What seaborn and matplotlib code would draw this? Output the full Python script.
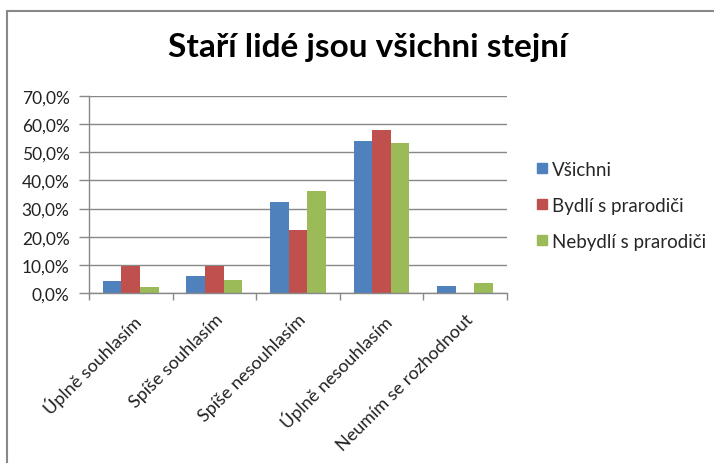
import numpy as np
import pandas as pd
import matplotlib
matplotlib.use("Agg")
import matplotlib.pyplot as plt
from matplotlib.lines import Line2D
from matplotlib.ticker import FuncFormatter, FixedLocator
import seaborn as sns

categories = ["Úplně souhlasím", "Spíše souhlasím", "Spíše nesouhlasím",
              "Úplně nesouhlasím", "Neumím se rozhodnout"]
series = ["Všichni", "Bydlí s prarodiči", "Nebydlí s prarodiči"]
vsichni = [4.2, 5.9, 32.4, 54.1, 2.5]
bydli = [9.7, 9.7, 22.3, 57.9, 0.0]
nebydli = [2.1, 4.5, 36.3, 53.2, 3.6]
colors = ["#4F81BD", "#C0504D", "#9BBB59"]

df = pd.DataFrame({
    "kategorie": categories * 3,
    "skupina": [s for s in series for _ in categories],
    "podil": vsichni + bydli + nebydli,
})

sns.set_theme(style="white")
plt.rcParams["font.family"] = ["Lato", "DejaVu Sans"]

fig = plt.figure(figsize=(7.14, 4.64), dpi=100)
ax = fig.add_axes([0.1246, 0.3664, 0.5854, 0.4246])

sns.barplot(data=df, x="kategorie", y="podil", hue="skupina",
            palette=colors, width=0.667, gap=0, ax=ax,
            edgecolor="none", saturation=1, legend=True)

ax.set_ylim(0, 70)
ax.set_xlim(-0.5, len(categories) - 0.5)
ax.set_yticks(np.arange(0, 71, 10))
ax.yaxis.set_major_formatter(FuncFormatter(lambda v, p: f"{v:.1f}%".replace(".", ",")))
ax.grid(axis="y", color="#888888", linewidth=1)
ax.set_axisbelow(True)
ax.set_xlabel("")
ax.set_ylabel("")

for side in ["top", "right"]:
    ax.spines[side].set_visible(False)
for side in ["left", "bottom"]:
    ax.spines[side].set_color("#888888")
    ax.spines[side].set_linewidth(1)

ax.tick_params(axis="y", which="major", left=True, length=7, width=1,
               color="#888888", labelsize=12.5, labelcolor="#222222", pad=7)
ax.tick_params(axis="x", which="major", bottom=False, labelsize=13,
               labelcolor="#222222", pad=7)
ax.xaxis.set_minor_locator(FixedLocator(np.arange(-0.5, len(categories), 1)))
ax.tick_params(axis="x", which="minor", bottom=True, length=5, width=1,
               color="#888888")
plt.setp(ax.get_xticklabels(), rotation=45, ha="right", rotation_mode="anchor")

ax.legend_.remove()
handles = [Line2D([], [], marker="s", linestyle="none", markersize=7,
                  markerfacecolor=c, markeredgecolor=c) for c in colors]
fig.legend(handles, series, loc="upper left", bbox_to_anchor=(0.737, 0.667),
           frameon=False, fontsize=13.5, handletextpad=0.05, labelspacing=1.0,
           handlelength=0.9, borderaxespad=0)

fig.text(0.515, 0.898, "Staří lidé jsou všichni stejní", ha="center",
         va="center", fontsize=24, fontweight="bold", color="black")

# chart frame (top and left edges visible in the crop)
fig.add_artist(Line2D([0.0098, 0.0098], [0.0, 0.974], transform=fig.transFigure,
                      color="#888888", linewidth=1.5))
fig.add_artist(Line2D([0.0098, 1.0], [0.974, 0.974], transform=fig.transFigure,
                      color="#888888", linewidth=1.5))

fig.savefig("out.png", dpi=100)
